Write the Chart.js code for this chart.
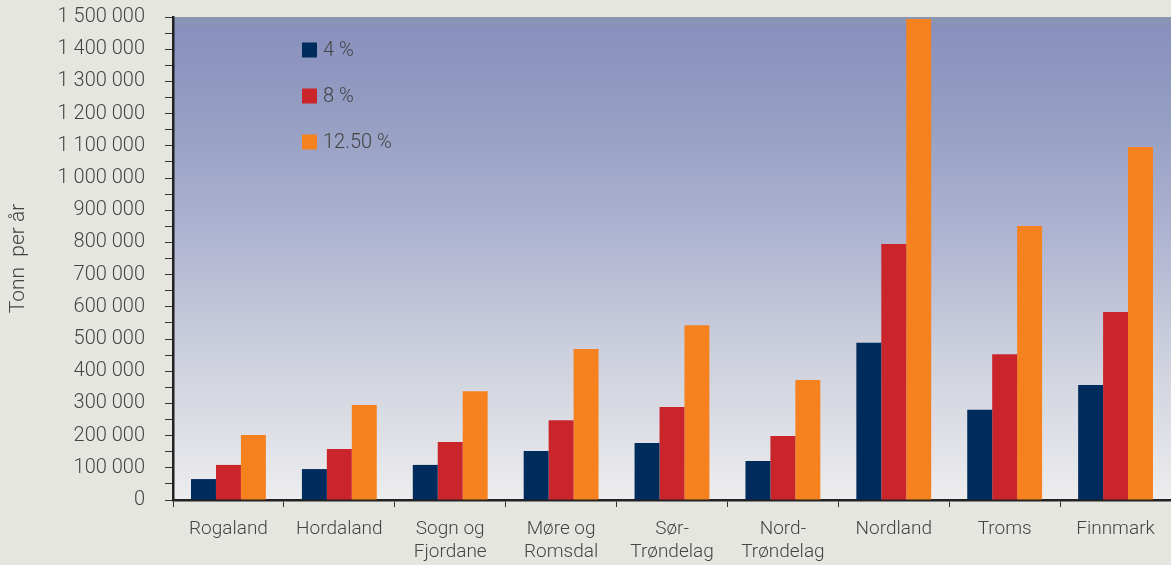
<!DOCTYPE html>
<html><head><meta charset="utf-8">
<script src="https://cdn.jsdelivr.net/npm/chart.js@4/dist/chart.umd.min.js"></script>
<style>html,body{margin:0;padding:0;background:#e6e6e1;}#wrap{width:1171px;height:565px;}</style>
</head><body><div id="wrap"><canvas id="c"></canvas></div>
<script>
const categories = [["Rogaland"],["Hordaland"],["Sogn og","Fjordane"],["Møre og","Romsdal"],["Sør-","Trøndelag"],["Nord-","Trøndelag"],["Nordland"],["Troms"],["Finnmark"]];
const seriesNames = ["4 %","8 %","12.50 %"];
const seriesColors = ["#002c5d","#cb252c","#f5821f"];
const values4 = [65000,96000,109000,152000,177000,121000,488000,280000,357000];
const values8 = [109000,158000,180000,248000,289000,199000,795000,453000,584000];
const values125 = [202000,295000,338000,469000,543000,373000,1494000,851000,1096000];
const yMax = 1500000;
const yStep = 50000;

const FONT = 'Roboto, "Open Sans", sans-serif';
function fmt(v){return String(v).replace(/\B(?=(\d{3})+(?!\d))/g,' ');}

const bgPlugin = {
  id:'bg',
  beforeDraw(chart){
    const {ctx, chartArea:a} = chart;
    const g = ctx.createLinearGradient(0,a.top,0,a.bottom);
    g.addColorStop(0,'#8b96b0');
    g.addColorStop(0.025,'#8990be');
    g.addColorStop(0.2,'#949ec2');
    g.addColorStop(0.45,'#aeb3d1');
    g.addColorStop(0.7,'#cdd0dd');
    g.addColorStop(1,'#ededee');
    ctx.save();ctx.fillStyle=g;ctx.fillRect(a.left,a.top,a.right-a.left,a.bottom-a.top);ctx.restore();
  }
};
const legendPlugin = {
  id:'lg',
  afterDraw(chart){
    const {ctx, chartArea:a} = chart;
    ctx.save();
    ctx.font = '300 20px ' + FONT;
    ctx.textBaseline='middle';
    chart.data.datasets.forEach((d,i)=>{
      const x = a.left+129, y = a.top+33+i*46;
      ctx.fillStyle=d.backgroundColor;ctx.fillRect(x,y-7.5,15,15);
      ctx.fillStyle='#444';ctx.fillText(d.label,x+21,y+1);
    });
    ctx.restore();
  }
};

new Chart(document.getElementById('c'),{
  type:'bar',
  data:{labels:categories,datasets:[
    {label:seriesNames[0],data:values4,backgroundColor:seriesColors[0]},
    {label:seriesNames[1],data:values8,backgroundColor:seriesColors[1]},
    {label:seriesNames[2],data:values125,backgroundColor:seriesColors[2]}
  ]},
  options:{
    responsive:true,maintainAspectRatio:false,animation:false,
    layout:{padding:{top:17,right:0,left:0,bottom:0}},
    datasets:{bar:{categoryPercentage:0.675,barPercentage:1}},
    plugins:{legend:{display:false},tooltip:{enabled:false}},
    scales:{
      x:{
        grid:{display:true,offset:true,drawOnChartArea:false,drawTicks:true,tickLength:7,color:'#333',lineWidth:1},
        border:{display:true,color:'#222',width:2.5},
        ticks:{color:'#444',font:{family:FONT,size:19,weight:300,lineHeight:1.2},padding:11,maxRotation:0,autoSkip:false},
        afterFit(s){s.height=65;s.paddingLeft=0;s.paddingRight=0;}
      },
      y:{
        min:0,max:yMax,
        grid:{display:true,drawOnChartArea:false,drawTicks:true,tickLength:8,color:'#333',lineWidth:1},
        border:{display:true,color:'#222',width:2.5},
        ticks:{stepSize:yStep,autoSkip:false,color:'#444',padding:20,
          font:{family:FONT,size:20,weight:300},
          callback:(v)=> (v%100000===0? fmt(v):'')},
        title:{display:true,text:'Tonn  per år',color:'#444',font:{family:FONT,size:21,weight:300},padding:{top:6,bottom:4}},
        afterFit(s){s.width=173;s.paddingTop=0;s.paddingBottom=0;}
      }
    }
  },
  plugins:[bgPlugin,legendPlugin]
});
</script></body></html>
